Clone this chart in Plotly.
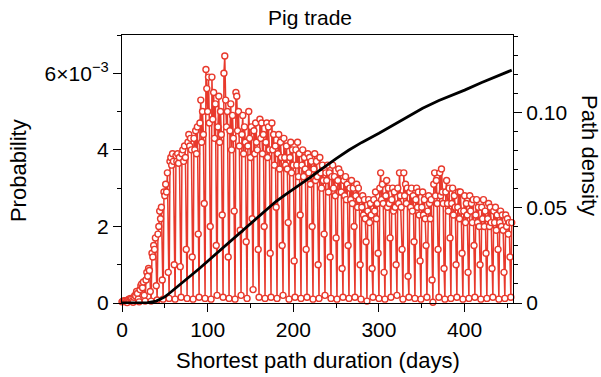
import numpy as np
import plotly.graph_objects as go

# Probability per day (units of 1e-3), one row per week: 5 weekdays, then two low days
prob_weeks_e3 = [
    [0.03, 0.05, 0.04, 0.06, 0.05, 0.03, 0.01],
    [0.08, 0.10, 0.07, 0.12, 0.10, 0.05, 0.02],
    [0.15, 0.20, 0.18, 0.30, 0.25, 0.10, 0.03],
    [0.35, 0.45, 0.50, 0.40, 0.55, 0.20, 0.05],
    [0.60, 0.80, 0.70, 0.90, 0.85, 0.30, 0.05],
    [1.30, 1.20, 1.50, 1.40, 1.70, 0.45, 0.08],
    [1.80, 2.00, 2.40, 2.20, 2.50, 0.60, 0.10],
    [2.90, 2.80, 3.10, 2.90, 3.40, 0.80, 0.12],
    [3.70, 3.80, 3.60, 3.90, 3.70, 1.00, 0.10],
    [3.85, 3.70, 3.90, 3.65, 3.80, 0.95, 0.15],
    [3.90, 4.00, 3.70, 4.10, 3.80, 1.40, 0.12],
    [4.20, 4.40, 4.10, 4.30, 4.00, 1.20, 0.10],
    [4.30, 4.00, 4.50, 3.90, 4.60, 1.80, 0.15],
    [4.70, 5.30, 4.20, 5.00, 4.40, 2.60, 0.12],
    [6.10, 5.60, 5.00, 5.90, 4.70, 2.00, 0.10],
    [5.90, 4.80, 5.50, 4.30, 5.20, 1.50, 0.20],
    [4.60, 5.40, 4.20, 5.00, 4.40, 2.30, 0.15],
    [6.00, 6.45, 5.30, 4.60, 5.00, 1.20, 0.12],
    [4.50, 5.20, 4.00, 4.90, 4.30, 2.40, 0.10],
    [5.50, 5.40, 4.50, 5.00, 4.10, 1.90, 0.20],
    [4.40, 4.90, 3.90, 4.60, 4.20, 1.60, 0.12],
    [4.10, 5.00, 4.30, 3.80, 4.60, 2.20, 0.35],
    [4.50, 3.90, 4.70, 4.20, 4.00, 1.40, 0.15],
    [4.80, 4.30, 4.70, 3.90, 4.40, 2.00, 0.12],
    [4.20, 4.70, 3.80, 4.60, 4.00, 1.30, 0.15],
    [4.70, 4.00, 4.40, 3.60, 4.10, 2.50, 0.12],
    [3.90, 4.40, 3.50, 4.20, 3.80, 1.50, 0.20],
    [4.30, 3.80, 3.60, 4.10, 3.50, 2.10, 0.10],
    [3.80, 4.20, 3.40, 4.00, 3.60, 1.10, 0.15],
    [4.00, 3.60, 4.20, 3.30, 3.90, 2.30, 0.12],
    [3.60, 4.00, 3.30, 3.80, 3.50, 1.40, 0.15],
    [3.90, 3.40, 3.80, 3.10, 3.70, 2.00, 0.10],
    [3.50, 3.90, 3.20, 3.70, 3.30, 1.00, 0.12],
    [3.80, 3.40, 3.00, 3.60, 3.20, 1.80, 0.20],
    [3.40, 3.20, 3.60, 2.90, 3.40, 1.20, 0.12],
    [3.30, 3.60, 3.00, 3.30, 2.80, 1.70, 0.10],
    [3.20, 3.50, 2.90, 3.40, 2.90, 0.90, 0.15],
    [3.20, 2.80, 3.30, 2.70, 3.10, 1.50, 0.12],
    [3.00, 2.70, 3.20, 2.60, 3.00, 2.00, 0.15],
    [2.80, 3.10, 2.50, 3.00, 2.70, 1.00, 0.10],
    [2.50, 2.80, 2.30, 2.70, 2.20, 1.60, 0.05],
    [2.40, 2.70, 2.10, 2.60, 2.30, 0.90, 0.15],
    [2.70, 2.40, 2.90, 2.20, 2.60, 1.30, 0.12],
    [3.00, 3.40, 2.70, 3.10, 2.60, 0.80, 0.10],
    [2.80, 3.20, 2.50, 3.00, 2.60, 1.70, 0.15],
    [2.70, 3.00, 2.40, 2.90, 2.50, 1.00, 0.20],
    [3.00, 2.60, 3.40, 2.80, 2.50, 1.40, 0.10],
    [3.40, 2.80, 3.10, 2.60, 3.00, 0.70, 0.15],
    [2.90, 2.50, 3.00, 2.40, 2.80, 1.60, 0.12],
    [2.70, 3.00, 2.50, 2.90, 2.30, 1.10, 0.10],
    [2.50, 2.90, 2.30, 2.70, 2.20, 1.50, 0.15],
    [2.40, 2.80, 2.60, 2.20, 2.70, 0.60, 0.02],
    [3.10, 3.40, 2.80, 3.20, 2.60, 1.40, 0.15],
    [3.40, 2.80, 3.50, 2.90, 2.60, 0.90, 0.10],
    [2.90, 3.20, 2.60, 2.40, 3.00, 1.70, 0.12],
    [2.60, 3.00, 2.30, 2.80, 2.50, 1.00, 0.15],
    [2.50, 2.90, 2.20, 2.90, 2.40, 1.30, 0.10],
    [2.40, 2.80, 2.10, 2.60, 2.30, 0.80, 0.12],
    [2.80, 2.40, 2.60, 2.10, 2.70, 1.50, 0.15],
    [2.30, 2.70, 2.10, 2.50, 2.00, 1.00, 0.10],
    [2.50, 2.20, 2.70, 2.00, 2.40, 1.30, 0.12],
    [2.20, 2.60, 2.00, 2.50, 2.10, 0.90, 0.15],
    [2.40, 2.10, 2.50, 1.90, 2.30, 1.40, 0.10],
    [2.10, 2.40, 2.00, 2.30, 1.90, 0.80, 0.12],
    [2.30, 2.00, 2.20, 1.80, 2.10, 1.20, 0.15],
]
prob_last_e3 = [2.10]

# Cumulative path density (right axis), read at sample days
density_days = [0, 10, 20, 30, 40, 45, 50, 55, 60, 70, 80, 90, 100, 110, 120, 131,
                140, 150, 160, 172, 180, 190, 200, 210, 219, 230, 240, 250, 265,
                280, 300, 320, 340, 351, 370, 385, 400, 420, 440, 455]
density_vals = [0, 0, 0.0001, 0.0002, 0.0010, 0.0019, 0.0032, 0.0050, 0.0068, 0.0105,
                0.0143, 0.0180, 0.0220, 0.0260, 0.0298, 0.0340, 0.0377, 0.0418,
                0.0458, 0.0505, 0.0535, 0.0568, 0.0598, 0.0628, 0.0658, 0.0695,
                0.0728, 0.0760, 0.0805, 0.0845, 0.0893, 0.0945, 0.0995, 0.1025,
                0.1065, 0.1092, 0.1120, 0.1160, 0.1195, 0.1225]

left_tickvals = [0, 0.002, 0.004, 0.006]
left_ticktext = ["0", "2", "4", "6×10<sup>−3</sup>"]
right_tickvals = [0, 0.05, 0.10]
right_ticktext = ["0", "0.05", "0.10"]
x_tickvals = [0, 100, 200, 300, 400]

prob = np.array([v for w in prob_weeks_e3 for v in w] + prob_last_e3) * 1e-3
days = np.arange(len(prob))

RED = "#e8392c"
FONT = "Liberation Sans, Arial, Helvetica, sans-serif"

fig = go.Figure()
fig.add_trace(go.Scatter(
    x=days, y=prob, mode="lines+markers", cliponaxis=False,
    line=dict(color=RED, width=1.5),
    marker=dict(symbol="circle", size=6, color="white",
                line=dict(color=RED, width=1.4)),
    yaxis="y", showlegend=False))
fig.add_trace(go.Scatter(
    x=density_days, y=density_vals, mode="lines", cliponaxis=False,
    line=dict(color="black", width=2.8),
    yaxis="y2", showlegend=False))

axis_common = dict(showgrid=False, zeroline=False, showline=True,
                   linecolor="black", linewidth=1.3, ticks="outside",
                   tickcolor="black", tickwidth=1.3, ticklen=8,
                   tickfont=dict(family=FONT, size=21, color="black"))

fig.update_layout(
    width=601, height=377,
    margin=dict(l=122, r=88, t=35, b=74),
    paper_bgcolor="white", plot_bgcolor="white",
    font=dict(family=FONT, color="black"),
    xaxis=dict(range=[0, 456.5], tickvals=x_tickvals, mirror=True,
               minor=dict(dtick=50, ticklen=4, ticks="outside",
                          tickcolor="black", tickwidth=1.3),
               **axis_common),
    yaxis=dict(range=[0, 0.007], tickvals=left_tickvals, ticktext=left_ticktext,
               minor=dict(dtick=0.001, ticklen=4, ticks="outside",
                          tickcolor="black", tickwidth=1.3),
               **axis_common),
    yaxis2=dict(range=[0, 0.141], tickvals=right_tickvals, ticktext=right_ticktext,
                overlaying="y", side="right",
                minor=dict(dtick=0.01, ticklen=4, ticks="outside",
                           tickcolor="black", tickwidth=1.3),
                **axis_common),
    annotations=[
        dict(text="Pig trade", x=0.481, y=1.067, xref="paper", yref="paper",
             showarrow=False, xanchor="center", yanchor="middle",
             font=dict(family=FONT, size=21, color="black")),
        dict(text="Probability", x=-0.266, y=0.496, xref="paper", yref="paper",
             showarrow=False, textangle=-90, xanchor="center", yanchor="middle",
             font=dict(family=FONT, size=22, color="black")),
        dict(text="Path density", x=1.197, y=0.552, xref="paper", yref="paper",
             showarrow=False, textangle=90, xanchor="center", yanchor="middle",
             font=dict(family=FONT, size=22, color="black")),
        dict(text="Shortest path duration (days)", x=0.501, y=-0.213,
             xref="paper", yref="paper", showarrow=False,
             xanchor="center", yanchor="middle",
             font=dict(family=FONT, size=22, color="black")),
    ],
)

fig.write_html("out.html",
               config={"displayModeBar": False},
               post_script="document.body.style.margin='0px';"
                           "document.body.style.overflow='hidden';")
